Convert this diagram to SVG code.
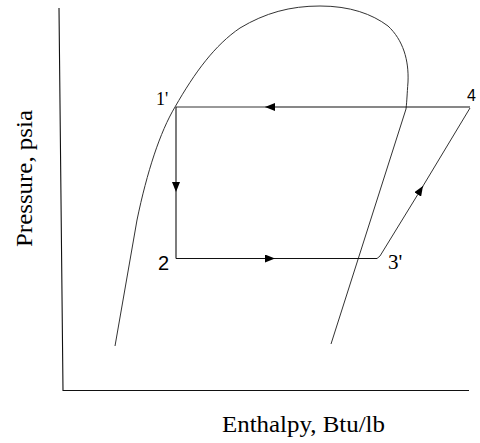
<svg xmlns="http://www.w3.org/2000/svg" width="480" height="443" viewBox="0 0 480 443">
<style>
.ln{fill:none;stroke:#111;stroke-width:1.1}
.lt{fill:none;stroke:#333;stroke-width:1}
.serif{font-family:"Liberation Serif","Times New Roman",serif;fill:#000}
.sans{font-family:"Liberation Sans",Arial,sans-serif;fill:#000}
</style>
<defs>
<marker id="ah" markerUnits="userSpaceOnUse" markerWidth="10" markerHeight="8" refX="10" refY="4" orient="auto">
<path d="M0,0 L10,4 L0,8 z" fill="#000"/>
</marker>
</defs>
<rect width="480" height="443" fill="#fff"/>
<g id="axes">
<path class="ln" d="M59,8 L63,390.5 L469,390.5"/>
<text class="serif" font-size="24" x="222" y="432" textLength="163" lengthAdjust="spacingAndGlyphs">Enthalpy, Btu/lb</text>
<text class="serif" font-size="24" transform="translate(32,247) rotate(-90)" textLength="137" lengthAdjust="spacingAndGlyphs">Pressure, psia</text>
</g>
<g id="dome">
<path class="lt" d="M115,346 L137,220 C147,172 160,132 175,107 C195,72 215,45 240,28 C265,13 290,6 320,6 C350,6 372,14 388,26 C403,40 409,60 408,82 C407,95 407,100 406,109 L331,344"/>
</g>
<g id="connectors">
<line class="ln" x1="470" y1="107" x2="265" y2="107" marker-end="url(#ah)"/>
<line class="lt" x1="265" y1="107" x2="176" y2="107" stroke="#666"/>
<line class="ln" x1="176" y1="107" x2="176" y2="192" marker-end="url(#ah)"/>
<line class="ln" x1="176" y1="192" x2="176" y2="258.5"/>
<line class="ln" x1="176" y1="258.5" x2="275" y2="258.5" marker-end="url(#ah)"/>
<line class="ln" x1="275" y1="258.5" x2="377" y2="258.5"/>
<polyline class="lt" points="377,258.5 380,256 423,186"/>
<line class="lt" x1="418" y1="194" x2="423" y2="186" marker-end="url(#ah)"/>
<line class="lt" x1="423" y1="186" x2="470" y2="108"/>
</g>
<g id="p1">
<text class="serif" font-size="18" x="156" y="105">1'</text>
</g>
<g id="p2">
<text class="sans" font-size="20" x="158" y="270">2</text>
</g>
<g id="p3">
<text class="serif" font-size="21" x="388" y="269">3'</text>
</g>
<g id="p4">
<text class="sans" font-size="16" x="467" y="101">4</text>
</g>
</svg>
